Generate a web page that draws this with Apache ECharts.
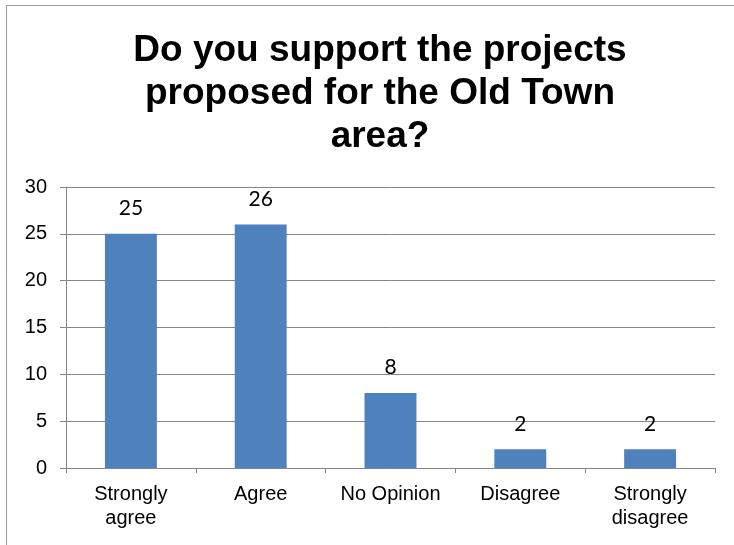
<!DOCTYPE html>
<html>
<head>
<meta charset="utf-8">
<script src="https://cdn.jsdelivr.net/npm/echarts@6/dist/echarts.min.js"></script>
<style>
  html, body { margin: 0; padding: 0; background: #fff; }
  #chart { width: 734px; height: 545px; }
</style>
</head>
<body>
<div id="chart"></div>
<script>
const categories = ['Strongly\nagree', 'Agree', 'No Opinion', 'Disagree', 'Strongly\ndisagree']
const responses = [25, 26, 8, 2, 2]
const yTicks = [0, 5, 10, 15, 20, 25, 30]

const chart = echarts.init(document.getElementById('chart'))

const axisGray = '#868686'

const option = {
  animation: false,
  backgroundColor: '#fff',
  title: {
    text: 'Do you support the projects\nproposed for the Old Town\narea?',
    left: 375,
    textAlign: 'center',
    top: 24,
    textStyle: {
      fontFamily: 'Liberation Sans',
      fontSize: 37,
      fontWeight: 'bold',
      color: '#000',
      lineHeight: 43
    }
  },
  graphic: [
    {
      type: 'rect',
      shape: { x: 6.5, y: 5.5, width: 760, height: 600 },
      style: { fill: 'none', stroke: '#9a9a9a', lineWidth: 1 },
      silent: true
    }
  ],
  grid: {
    left: 66,
    right: 19,
    top: 187,
    bottom: 77
  },
  xAxis: {
    type: 'category',
    data: categories,
    axisLine: { lineStyle: { color: axisGray, width: 1 } },
    axisTick: { show: true, alignWithLabel: false, length: 5, lineStyle: { color: axisGray } },
    axisLabel: {
      color: '#000',
      fontFamily: 'Liberation Sans',
      fontSize: 20,
      lineHeight: 24,
      margin: 14,
      interval: 0
    }
  },
  yAxis: {
    type: 'value',
    min: yTicks[0],
    max: yTicks[yTicks.length - 1],
    interval: 5,
    axisLine: { show: true, lineStyle: { color: axisGray, width: 1 } },
    axisTick: { show: true, length: 6, lineStyle: { color: axisGray } },
    splitLine: { show: true, lineStyle: { color: axisGray, width: 1 } },
    axisLabel: {
      color: '#000',
      fontFamily: 'Liberation Sans',
      fontSize: 20,
      margin: 19
    }
  },
  series: [
    {
      type: 'bar',
      data: responses,
      barWidth: '40%',
      itemStyle: { color: '#4F81BD' },
      label: {
        show: true,
        position: 'top',
        distance: 15,
        color: '#000',
        fontFamily: 'Lato',
        fontSize: 21
      }
    }
  ]
}

chart.setOption(option)
</script>
</body>
</html>
